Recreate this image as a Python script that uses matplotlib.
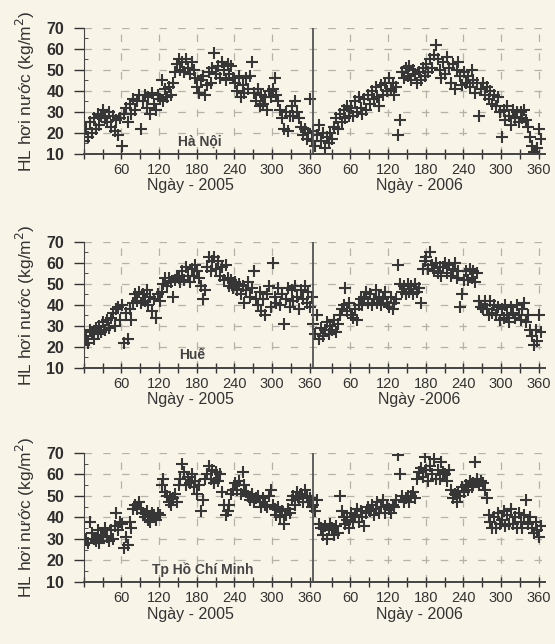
import matplotlib.pyplot as plt
import numpy as np

# daily precipitable water, read every 3 days (day 1, 4, ..., 364)
hanoi_2005 = [16, 22, 18, 25, 20, 27, 22, 29, 24, 28,
              31, 27, 25, 30, 23, 28, 21, 26, 19, 27,
              14, 29, 32, 25, 34, 29, 36, 31, 35, 38,
              22, 35, 38, 32, 37, 29, 39, 34, 31, 38,
              36, 45, 35, 41, 37, 42, 38, 44, 49, 53,
              55, 50, 54, 49, 55, 51, 48, 54, 50, 46,
              42, 39, 45, 47, 38, 43, 49, 44, 51, 58,
              48, 52, 46, 54, 50, 45, 53, 48, 52, 46,
              44, 40, 47, 37, 43, 39, 46, 41, 47, 54,
              39, 35, 41, 33, 38, 34, 37, 31, 40, 37,
              41, 46, 38, 35, 31, 27, 22, 30, 21, 28,
              33, 28, 35, 30, 27, 23, 19, 22, 17, 20,
              36, 16]
hanoi_2006 = [21, 14, 19, 24, 16, 20, 13, 18, 15, 20,
              17, 23, 27, 22, 29, 25, 31, 27, 33, 28,
              32, 28, 35, 30, 37, 32, 29, 36, 31, 38,
              34, 40, 36, 42, 37, 33, 43, 38, 44, 40,
              46, 41, 44, 38, 42, 19, 26, 49, 46, 51,
              47, 52, 45, 50, 48, 44, 49, 45, 51, 47,
              53, 49, 55, 51, 57, 62, 55, 50, 46, 54,
              48, 56, 51, 44, 53, 41, 50, 54, 47, 43,
              49, 44, 47, 42, 50, 45, 39, 44, 28, 41,
              44, 38, 42, 36, 40, 34, 38, 33, 37, 30,
              18, 31, 26, 33, 28, 24, 31, 27, 30, 25,
              30, 27, 31, 26, 23, 18, 14, 11, 9.5, 13,
              22, 17]
hue_2005 = [21, 25, 22, 28, 27, 24, 29, 26, 30, 27,
            32, 28, 33, 29, 34, 36, 30, 38, 39, 33,
            40, 22, 36, 24, 38, 33, 41, 45, 42, 46,
            41, 45, 42, 47, 40, 44, 37, 43, 34, 45,
            42, 46, 50, 53, 49, 53, 51, 44, 52, 54,
            53, 51, 56, 52, 58, 54, 51, 57, 54, 59,
            56, 53, 49, 43, 47, 58, 63, 56, 61, 63,
            57, 61, 54, 58, 52, 59, 53, 49, 52, 48,
            51, 47, 50, 45, 49, 41, 47, 51, 44, 48,
            56, 43, 40, 46, 37, 43, 35, 45, 49, 39,
            60, 44, 41, 48, 40, 45, 31, 43, 48, 39,
            47, 42, 49, 44, 38, 47, 43, 49, 41, 46,
            39, 44]
hue_2006 = [31, 26, 35, 24, 29, 25, 28, 32, 26, 30,
            28, 33, 27, 31, 35, 38, 40, 48, 37, 41,
            35, 34, 38, 33, 40, 43, 40, 44, 46, 41,
            45, 40, 43, 47, 41, 44, 40, 43, 46, 41,
            39, 44, 38, 41, 43, 59, 50, 46, 49, 45,
            50, 46, 49, 45, 50, 46, 48, 41, 57, 61,
            63, 57, 65, 59, 56, 60, 55, 58, 54, 58,
            60, 55, 59, 54, 57, 60, 53, 56, 39, 45,
            52, 56, 52, 57, 53, 56, 51, 55, 42, 39,
            38, 42, 38, 35, 42, 36, 40, 35, 39, 33,
            38, 34, 40, 35, 32, 39, 36, 34, 40, 35,
            33, 38, 41, 32, 35, 28, 25, 21, 28, 23,
            35, 27]
hcm_2005 = [27, 30, 28, 38, 33, 30, 29, 34, 28, 32,
            31, 35, 31, 29, 34, 30, 36, 42, 34, 38,
            37, 26, 31, 27, 38, 35, 44, 46, 44, 47,
            44, 42, 40, 43, 39, 38, 42, 41, 39, 42,
            41, 55, 58, 52, 50, 47, 46, 49, 51, 47,
            55, 58, 65, 61, 55, 59, 56, 60, 54, 57,
            51, 55, 43, 48, 58, 60, 64, 58, 62, 56,
            61, 57, 60, 52, 46, 41, 43, 46, 51, 53,
            56, 53, 57, 51, 61, 55, 52, 50, 48, 51,
            47, 49, 50, 47, 45, 49, 46, 45, 50, 53,
            46, 44, 41, 45, 40, 43, 37, 41, 44, 42,
            48, 50, 46, 52, 49, 51, 47, 53, 50, 47,
            49, 45]
hcm_2006 = [46, 43, 48, 37, 35, 32, 36, 30, 34, 37,
            35, 32, 36, 33, 50, 43, 40, 37, 39, 35,
            42, 38, 41, 44, 38, 43, 40, 36, 42, 45,
            43, 46, 41, 44, 47, 42, 45, 48, 42, 46,
            44, 42, 46, 45, 48, 69, 60, 50, 47, 49,
            50, 47, 50, 52, 49, 58, 61, 63, 59, 68,
            62, 57, 64, 60, 67, 58, 62, 58, 66, 61,
            60, 57, 62, 53, 49, 51, 47, 52, 50, 54,
            52, 55, 53, 57, 54, 56, 66, 58, 55, 57,
            56, 53, 49, 41, 38, 35, 40, 35, 42, 37,
            39, 43, 36, 41, 37, 44, 37, 40, 35, 42,
            38, 35, 41, 48, 37, 40, 35, 33, 38, 34,
            31, 36]

stations = ["Hà Nội", "Huế", "Tp Hồ Chí Minh"]
station_day = [185, 172, 190]
label_2006 = ["Ngày - 2006", "Ngày -2006", "Ngày - 2006"]
series = [(hanoi_2005, hanoi_2006), (hue_2005, hue_2006), (hcm_2005, hcm_2006)]

bg = "#f8f4e7"
ink = "#333333"
plt.rcParams['font.family'] = ['Liberation Sans', 'DejaVu Sans']

fig = plt.figure(figsize=(5.55, 6.44), dpi=100, facecolor=bg)

# axes boxes (left, bottom, width, height) in figure fraction
boxes = [(0.151, 0.7609, 0.831, 0.1957),
         (0.151, 0.4286, 0.831, 0.1957),
         (0.151, 0.0963, 0.831, 0.2003)]

ticks = [30 * i for i in range(13)] + [365 + 30 * i for i in range(1, 13)]
ticklabels = []
for t in ticks:
    d = t if t <= 360 else t - 365
    ticklabels.append(str(d) if d % 60 == 0 and d > 0 else "")

for i in range(3):
    ax = fig.add_axes(boxes[i])
    ax.set_facecolor(bg)
    y05, y06 = series[i]
    d05 = np.arange(1, 3 * len(y05), 3)
    d06 = np.arange(1, 3 * len(y06), 3) + 365
    ax.plot(d05, y05, '+', color="#363636", markersize=8, mew=1.5)
    ax.plot(d06, y06, '+', color="#363636", markersize=8, mew=1.5)

    ax.set_xlim(0, 735)
    ax.set_ylim(10, 70)
    ax.axvline(365, color="#555555", lw=1.3)

    ax.set_xticks(ticks)
    ax.set_xticklabels(ticklabels)
    ax.set_yticks(range(10, 71, 10))
    ax.set_yticks(range(10, 71, 5), minor=True)
    ax.tick_params(axis='both', colors=ink, width=1.0)
    ax.tick_params(axis='x', direction='inout', length=7, pad=3, labelsize=10.5)
    ax.tick_params(axis='y', direction='out', length=7, pad=7, labelsize=11.5)
    ax.tick_params(axis='y', which='minor', direction='in', length=3, color=ink)
    for lab in ax.get_yticklabels():
        lab.set_fontweight('bold')
        lab.set_color("#2e2e2e")

    # dashed grid every 60 days and every 10 units
    for g in [60, 120, 180, 240, 300, 425, 485, 545, 605, 665, 725]:
        ax.axvline(g, color="#b5b2a8", lw=0.9, ls=(0, (6, 9)), zorder=0)
    for g in range(20, 71, 10):
        ax.axhline(g, color="#b5b2a8", lw=0.9, ls=(0, (6, 9)), zorder=0)

    for s in ['top', 'right']:
        ax.spines[s].set_visible(False)
    ax.spines['left'].set_color("#444444")
    ax.spines['bottom'].set_color("#444444")
    ax.spines['bottom'].set_linewidth(1.4)

    ax.set_ylabel("HL hơi nước (kg/m$^2$)", fontsize=12.5, color=ink, labelpad=7)

    xt = ax.get_xaxis_transform()
    ax.text(170, -0.25, "Ngày - 2005", transform=xt, ha='center', va='center',
            fontsize=11.5, color=ink)
    ax.text(535, -0.25, label_2006[i], transform=xt, ha='center', va='center',
            fontsize=11.5, color=ink)

    ax.text(station_day[i], 16, stations[i], ha='center', va='center', fontsize=10,
            fontweight='bold', color="#444444")

fig.savefig("out.png", dpi=100, facecolor=bg)
